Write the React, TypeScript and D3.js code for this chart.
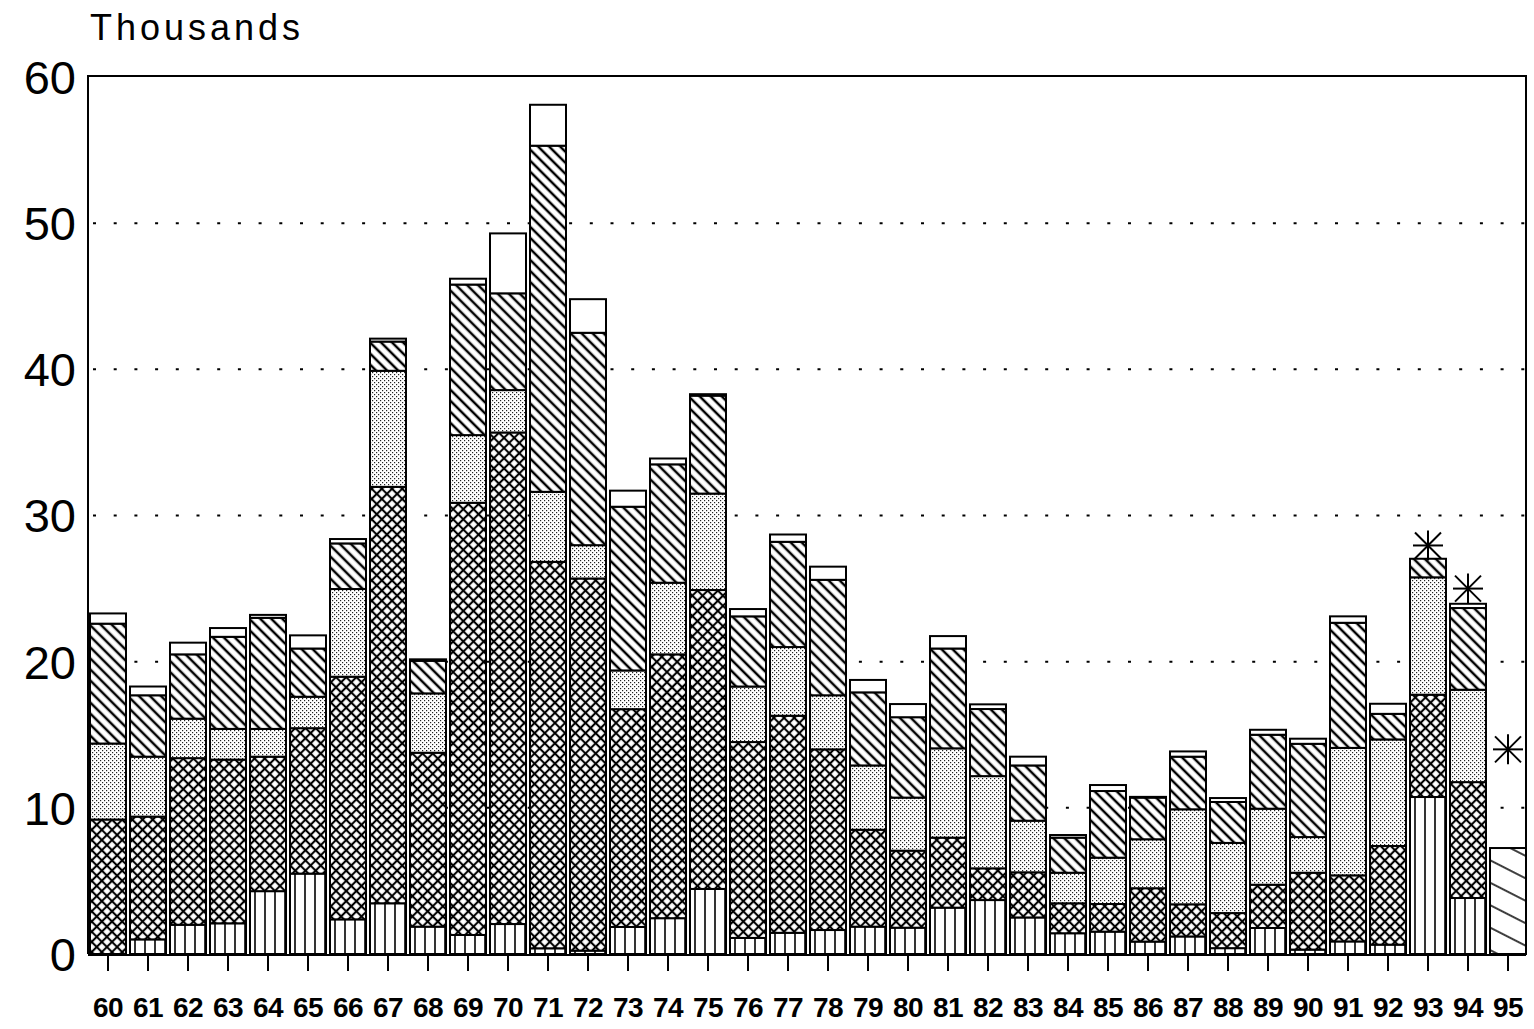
import React from 'react';
import * as d3 from 'd3';

const years = ['60','61','62','63','64','65','66','67','68','69','70','71','72','73','74','75','76','77','78','79','80','81','82','83','84','85','86','87','88','89','90','91','92','93','94','95'];
const vertical = [0,1.0,2.0,2.1,4.3,5.5,2.37,3.47,1.87,1.3,2.05,0.39,0.23,1.85,2.45,4.45,1.1,1.45,1.64,1.87,1.8,3.17,3.69,2.5,1.42,1.53,0.85,1.2,0.4,1.78,0.3,0.86,0.64,10.74,3.83,0];
const crossHatch = [9.2,8.4,11.4,11.2,9.2,9.95,16.6,28.49,11.9,29.57,33.63,26.44,25.46,14.9,18.05,20.45,13.4,14.85,12.36,6.63,5.27,4.79,2.17,3.09,2.05,1.89,3.65,2.2,2.4,2.96,5.26,4.52,6.75,7.0,7.93,0];
const dotted = [5.2,4.1,2.7,2.1,1.9,2.15,6.0,7.94,4.06,4.63,2.9,4.79,2.28,2.65,4.9,6.6,3.8,4.7,3.7,4.4,3.63,6.11,6.31,3.53,2.09,3.17,3.35,6.5,4.8,5.2,2.44,8.72,7.29,8.03,6.32,0];
const hatched = [8.2,4.2,4.4,6.3,7.6,3.3,3.12,2.0,2.23,10.3,6.62,23.68,14.53,11.2,8.1,6.7,4.8,7.2,7.9,5.0,5.5,6.83,4.59,3.78,2.4,4.56,2.85,3.6,2.8,5.06,6.38,8.56,1.75,1.27,5.59,0];
const open = [0.7,0.6,0.8,0.6,0.2,0.9,0.3,0.2,0.1,0.4,4.1,2.8,2.3,1.1,0.4,0.1,0.5,0.5,0.9,0.85,0.9,0.85,0.32,0.6,0.18,0.41,0.05,0.36,0.27,0.34,0.35,0.44,0.69,0,0.29,0];
const estimate = [0,0,0,0,0,0,0,0,0,0,0,0,0,0,0,0,0,0,0,0,0,0,0,0,0,0,0,0,0,0,0,0,0,0,0,7.25];
const starYears = ['93','94','95'];
const starValues = [27.95, 25.0, 14.0];
const yTicks = [0,10,20,30,40,50,60];
const yTitle = 'Thousands';

const keys = ['vertical','crossHatch','dotted','hatched','open','estimate'];
const fills: Record<string,string> = {
  vertical: 'url(#pVert)', crossHatch: 'url(#pCross)', dotted: 'url(#pDot)',
  hatched: 'url(#pHatch)', open: '#ffffff', estimate: 'url(#pEst)'
};

export default function App() {
  const W = 1534, H = 1029;
  const left = 88, right = 1526, top = 77, bottom = 954;
  const x = d3.scaleBand<string>().domain(years).range([88, 1528]).paddingInner(0.1).paddingOuter(0.05);
  const y = d3.scaleLinear().domain([0, 60]).range([bottom, top]);
  const rows = years.map((yr, i) => ({
    year: yr, vertical: vertical[i], crossHatch: crossHatch[i], dotted: dotted[i],
    hatched: hatched[i], open: open[i], estimate: estimate[i]
  }));
  const stacked = d3.stack<any>().keys(keys)(rows);
  const bw = x.bandwidth();

  return (
    <svg width={W} height={H} style={{ position: 'absolute', left: 0, top: 0, background: '#fff' }}
      fontFamily="'Liberation Sans', Arial, sans-serif">
      <defs>
        <pattern id="pVert" patternUnits="userSpaceOnUse" width={10} height={10}>
          <rect width={10} height={10} fill="#fff" />
          <line x1={5} y1={0} x2={5} y2={10} stroke="#000" strokeWidth={1.6} />
        </pattern>
        <pattern id="pCross" patternUnits="userSpaceOnUse" width={7.2} height={7.2} patternTransform="rotate(45)">
          <rect width={7.2} height={7.2} fill="#fff" />
          <line x1={3.6} y1={0} x2={3.6} y2={7.2} stroke="#000" strokeWidth={2.1} />
          <line x1={0} y1={3.6} x2={7.2} y2={3.6} stroke="#000" strokeWidth={2.1} />
        </pattern>
        <pattern id="pHatch" patternUnits="userSpaceOnUse" width={7.8} height={8} patternTransform="rotate(-45)">
          <rect width={7.8} height={8} fill="#fff" />
          <line x1={3.9} y1={0} x2={3.9} y2={8} stroke="#000" strokeWidth={2.5} />
        </pattern>
        <pattern id="pDot" patternUnits="userSpaceOnUse" width={4} height={4}>
          <rect width={4} height={4} fill="#fff" />
          <rect x={0} y={0} width={1.2} height={1.2} fill="#222" />
          <rect x={2} y={2} width={1.2} height={1.2} fill="#222" />
        </pattern>
        <pattern id="pEst" patternUnits="userSpaceOnUse" width={10} height={20} patternTransform="rotate(27)">
          <rect width={10} height={20} fill="#fff" />
          <line x1={0} y1={10} x2={10} y2={10} stroke="#000" strokeWidth={1.5} />
        </pattern>
      </defs>

      <text x={90} y={40} fontSize={36} letterSpacing={4} fill="#000">{yTitle}</text>

      {/* gridlines */}
      {yTicks.filter(t => t > 0 && t < 60).map(t => (
        <line key={'g' + t} x1={93} x2={right} y1={y(t)} y2={y(t)} stroke="#000" strokeWidth={2}
          strokeDasharray="3 17.7" />
      ))}

      {/* y labels */}
      {yTicks.map(t => (
        <text key={'yl' + t} x={76} y={y(t)} dy="0.36em" textAnchor="end" fontSize={47} fill="#000">{t}</text>
      ))}

      {/* bars */}
      {stacked.map(s => (
        <g key={s.key}>
          {s.map((d: any, i: number) => {
            const v = d[1] - d[0];
            if (v <= 0) return null;
            return (
              <rect key={i} x={x(years[i])!} width={bw} y={y(d[1])} height={y(d[0]) - y(d[1])}
                fill={fills[s.key]} stroke="#000" strokeWidth={2} />
            );
          })}
        </g>
      ))}

      {/* asterisks */}
      {starYears.map((yr, i) => {
        const cx = x(yr)! + bw / 2, cy = y(starValues[i]);
        const r = 15, dgl = 13;
        return (
          <g key={'s' + yr} stroke="#000" strokeWidth={2}>
            <line x1={cx - r} x2={cx + r} y1={cy} y2={cy} />
            <line x1={cx} x2={cx} y1={cy - r} y2={cy + r} />
            <line x1={cx - dgl} x2={cx + dgl} y1={cy - dgl} y2={cy + dgl} />
            <line x1={cx - dgl} x2={cx + dgl} y1={cy + dgl} y2={cy - dgl} />
          </g>
        );
      })}

      {/* frame */}
      <path d={`M${left},${bottom} V${top - 1} H${right} V${bottom}`} fill="none" stroke="#000" strokeWidth={2} />
      <line x1={left} x2={right} y1={bottom + 1} y2={bottom + 1} stroke="#000" strokeWidth={2} />

      {/* x ticks and labels */}
      {years.map(yr => {
        const cx = x(yr)! + bw / 2;
        return (
          <g key={'x' + yr}>
            <line x1={cx} x2={cx} y1={bottom + 1} y2={bottom + 17} stroke="#000" strokeWidth={2} />
            <text x={cx} y={1017} textAnchor="middle" fontSize={28} fontWeight="bold" letterSpacing={-0.5} fill="#000">{yr}</text>
          </g>
        );
      })}
    </svg>
  );
}
